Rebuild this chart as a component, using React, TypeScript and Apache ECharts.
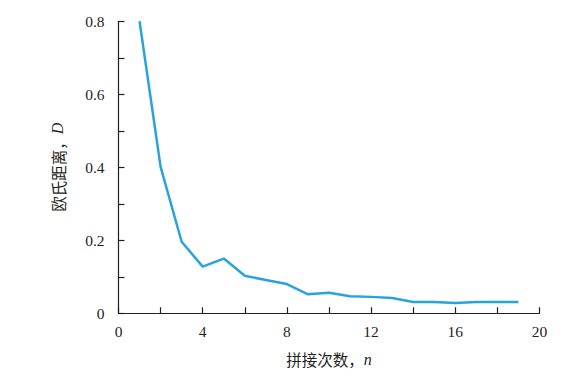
import React, { useEffect, useRef } from "react";
import * as echarts from "echarts";

const nValues = [1, 2, 3, 4, 5, 6, 7, 8, 9, 10, 11, 12, 13, 14, 15, 16, 17, 18, 19];
const dValues = [0.8, 0.401, 0.196, 0.128, 0.15, 0.103, 0.091, 0.08, 0.052, 0.056, 0.047, 0.045, 0.042, 0.031, 0.031, 0.028, 0.031, 0.031, 0.031];
const xTickLabels = ["0", "4", "8", "12", "16", "20"];
const yTickLabels = ["0", "0.2", "0.4", "0.6", "0.8"];

const FONT = "Liberation Serif, Times New Roman, serif";
const CJK_FONT = "Noto Sans CJK SC";
const INK = "#231f20";

export default function App() {
  const ref = useRef<HTMLDivElement>(null);
  useEffect(() => {
    if (!ref.current) return;
    const chart = echarts.init(ref.current, undefined, { renderer: "svg" });
    chart.setOption({
      animation: false,
      backgroundColor: "#ffffff",
      textStyle: { fontFamily: FONT },
      grid: { left: 118.5, right: 25.5, top: 21.3, bottom: 66.7, containLabel: false },
      xAxis: {
        type: "value",
        min: 0,
        max: 20,
        interval: 2,
        name: "{c|拼接次数，}{i|n}",
        nameLocation: "middle",
        nameGap: 38,
        nameTextStyle: {
          fontFamily: FONT,
          rich: {
            c: { fontFamily: CJK_FONT, fontSize: 15.5, color: INK },
            i: { fontFamily: FONT, fontSize: 16, fontStyle: "italic", color: INK },
          },
        },
        axisLine: { show: true, lineStyle: { color: INK, width: 1.2 } },
        axisTick: { show: true, inside: true, length: 6, lineStyle: { color: INK, width: 1.2 } },
        splitLine: { show: false },
        axisLabel: {
          fontFamily: FONT,
          fontSize: 15.5,
          color: INK,
          margin: 10,
          formatter: (v: number) => (xTickLabels.includes(String(v)) ? String(v) : ""),
        },
      },
      yAxis: {
        type: "value",
        min: 0,
        max: 0.8,
        interval: 0.1,
        name: "{c|欧氏距离，}{i|D}",
        nameLocation: "middle",
        nameRotate: 90,
        nameGap: 53,
        nameTextStyle: {
          fontFamily: FONT,
          rich: {
            c: { fontFamily: CJK_FONT, fontSize: 15.5, color: INK },
            i: { fontFamily: FONT, fontSize: 16, fontStyle: "italic", color: INK },
          },
        },
        axisLine: { show: true, lineStyle: { color: INK, width: 1.2 } },
        axisTick: { show: true, inside: true, length: 6, lineStyle: { color: INK, width: 1.2 } },
        splitLine: { show: false },
        axisLabel: {
          fontFamily: FONT,
          fontSize: 15.5,
          color: INK,
          margin: 14,
          formatter: (v: number) => {
            const s = String(Math.round(v * 10) / 10);
            return yTickLabels.includes(s) ? s : "";
          },
        },
      },
      series: [
        {
          type: "line",
          data: nValues.map((n, i) => [n, dValues[i]]),
          symbol: "none",
          lineStyle: { color: "#29a3dd", width: 2.5 },
        },
      ],
    });
    return () => chart.dispose();
  }, []);
  return <div ref={ref} style={{ width: 565, height: 380, position: "absolute", left: 0, top: 0 }} />;
}
